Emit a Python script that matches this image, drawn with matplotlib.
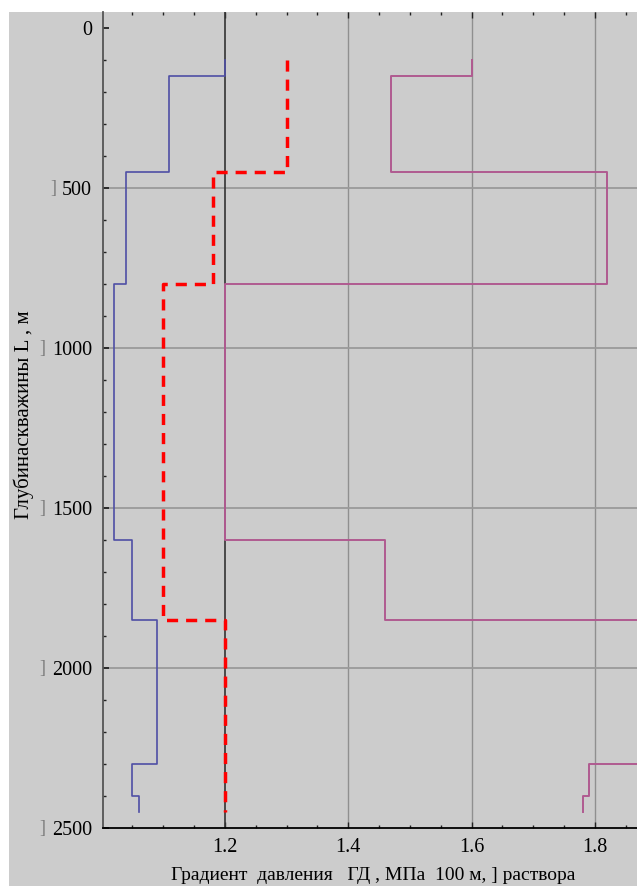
import matplotlib
matplotlib.use('Agg')
import matplotlib.pyplot as plt
import matplotlib.patches as mpatches
from matplotlib.ticker import MultipleLocator
import numpy as np

plt.rcParams.update({
    'font.family': 'serif',
    'font.serif': ['Liberation Serif', 'DejaVu Serif'],
    'font.size': 14.5,
})

# ------------------------------------------------------------
# Data: depth boundaries (m) and gradient values on each interval
# ------------------------------------------------------------
blue_depth = [100, 150, 450, 800, 1600, 1850, 2300, 2400, 2450]
blue_grad = [1.20, 1.11, 1.04, 1.02, 1.05, 1.09, 1.05, 1.06]

red_depth = [100, 450, 800, 1850, 2450]
red_grad = [1.30, 1.18, 1.10, 1.20]

purple_depth = [100, 150, 450, 800, 1600, 1850, 2300, 2400, 2450]
purple_grad = [1.60, 1.47, 1.82, 1.20, 1.46, 1.95, 1.79, 1.78]

y_ticks = [0, 500, 1000, 1500, 2000, 2500]
x_ticks = [1.2, 1.4, 1.6, 1.8]


def step_xy(depths, values):
    xs, ys = [], []
    for i, v in enumerate(values):
        xs += [v, v]
        ys += [depths[i], depths[i + 1]]
    return xs, ys


W, H = 637, 886
fig = plt.figure(figsize=(W / 100, H / 100), dpi=100, facecolor='white')

# gray plot background (leaves thin white strip at top/left)
fig.patches.append(mpatches.Rectangle((9 / W, 0), 1, 1 - 12 / H, transform=fig.transFigure,
                                      facecolor='#cccccc', edgecolor='none', zorder=-5))

ax = fig.add_axes([103 / W, (H - 828) / H, 534 / W, (828 - 12) / H])
ax.set_zorder(2)
ax.set_facecolor('none')
ax.set_xlim(1.0022, 1.8681)
ax.set_ylim(2500, -50)

# grid
for x in [1.4, 1.6, 1.8]:
    ax.axvline(x, color='#8f8f8f', lw=1.0, zorder=1)
for y in [500, 1000, 1500, 2000]:
    ax.axhline(y, color='#9a9a9a', lw=1.3, zorder=1)
ax.axvline(1.2, color='#333333', lw=1.2, zorder=2)

# series
bx, by = step_xy(blue_depth, blue_grad)
ax.plot(bx, by, color='#4f4fa5', lw=1.2, zorder=3)
px, py = step_xy(purple_depth, purple_grad)
ax.plot(px, py, color='#b05a90', lw=1.4, zorder=3)
rx, ry = step_xy(red_depth, red_grad)
ax.plot(rx, ry, color='#ff0000', lw=2.5, dashes=(3.2, 2.3), zorder=4)

# axes styling
for s in ['top', 'right']:
    ax.spines[s].set_visible(False)
ax.spines['left'].set_color('#555555')
ax.spines['left'].set_linewidth(1.3)
ax.spines['bottom'].set_color('black')
ax.spines['bottom'].set_linewidth(1.3)

ax.set_xticks(x_ticks)
ax.set_xticklabels([f'{v:.1f}' for v in x_ticks])
ax.xaxis.set_minor_locator(MultipleLocator(0.05))
ax.set_yticks(y_ticks)
ax.set_yticklabels([str(v) for v in y_ticks])
ax.yaxis.set_minor_locator(MultipleLocator(100))

ax.tick_params(axis='x', which='both', direction='in', top=True, color='#222222', pad=7)
ax.tick_params(axis='x', which='major', length=4, width=1)
ax.tick_params(axis='x', which='minor', length=2.5, width=1)
ax.tick_params(axis='y', which='both', direction='in', color='#222222', pad=8)
ax.tick_params(axis='y', which='major', length=4, width=1.3)
ax.tick_params(axis='y', which='minor', length=2.5, width=1)

# little bracket glyphs before the depth labels
for v in y_ticks[1:]:
    nd = len(str(v))
    ax.annotate(']', xy=(0, v), xycoords=('axes fraction', 'data'),
                xytext=(-(33.8 + (nd - 3) * 8.0), 0), textcoords='offset points',
                ha='right', va='center', fontsize=13, color='#7a7a7a')

fig.text(373 / W, 1 - 876 / H, 'Градиент  давления   ГД , МПа  100 м, ] раствора',
         ha='center', va='center', fontsize=14)
fig.text(24 / W, 1 - 415 / H, 'Глубинаскважины L , м', rotation=90,
         ha='center', va='center', fontsize=15)

plt.savefig('out.png', dpi=100)
